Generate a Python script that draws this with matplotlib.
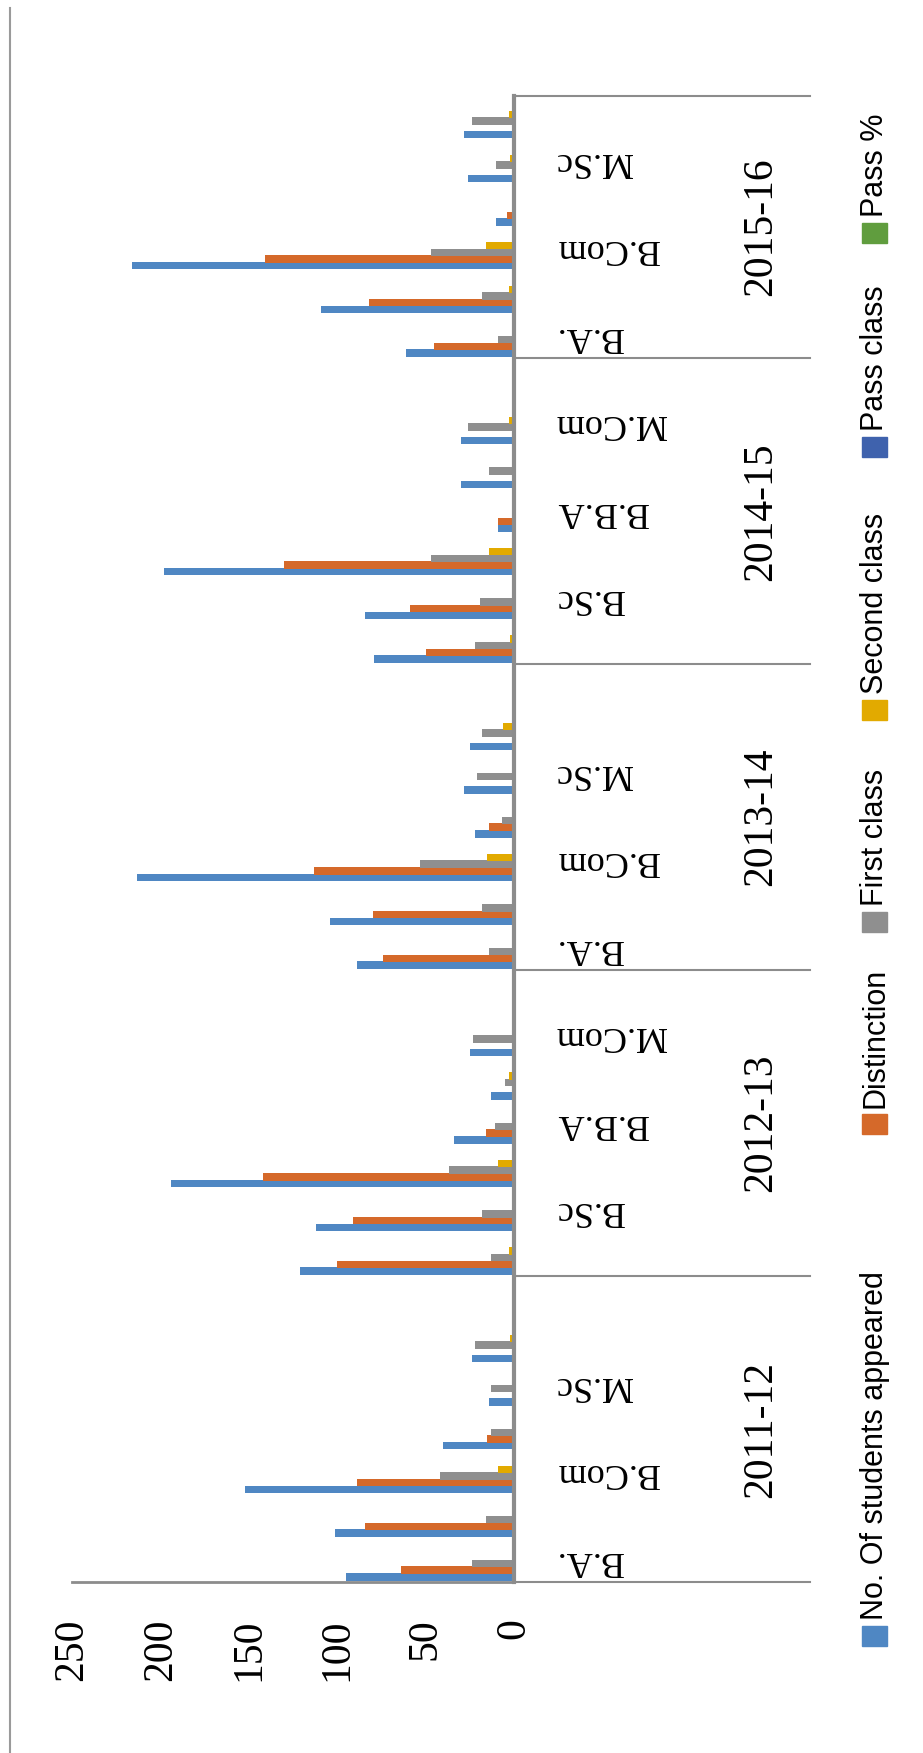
import numpy as np
import matplotlib.pyplot as plt
from matplotlib.patches import Rectangle
from matplotlib.lines import Line2D

# chart data (bottom to top in the picture); None = empty spacer row after each year
years = ["2011-12", "2012-13", "2013-14", "2014-15", "2015-16"]
categories = ["B.A.", "B.Sc", "B.Com", "B.B.A", "M.Sc", "M.Com", "",
              "B.A.", "B.Sc", "B.Com", "B.B.A", "M.Sc", "M.Com", "",
              "B.A.", "B.Sc", "B.Com", "B.B.A", "M.Sc", "M.Com", "",
              "B.A.", "B.Sc", "B.Com", "B.B.A", "M.Sc", "M.Com", "",
              "B.A.", "B.Sc", "B.Com", "B.B.A", "M.Sc", "M.Com"]
year_sizes = [7, 7, 7, 7, 6]

appeared = [95, 101, 152, 40, 14, 24, None,
            121, 112, 194, 34, 13, 25, None,
            89, 104, 213, 22, 28, 25, None,
            79, 84, 198, 9, 30, 30, None,
            61, 109, 216, 10, 26, 28]
distinction = [64, 84, 89, 15, 1, 1, None,
               100, 91, 142, 16, 1, 1, None,
               74, 80, 113, 14, 1, 1, None,
               50, 59, 130, 9, 1, 1, None,
               45, 82, 141, 4, 1, 1]
first_class = [24, 16, 42, 13, 13, 22, None,
               13, 18, 37, 11, 5, 23, None,
               14, 18, 53, 7, 21, 18, None,
               22, 19, 47, 0, 14, 26, None,
               9, 18, 47, 1, 10, 24]
second_class = [1, 1, 9, 1, 1, 2, None,
                3, 1, 9, 1, 3, 1, None,
                0, 1, 15, 1, 1, 6, None,
                2, 1, 14, 0, 1, 3, None,
                1, 3, 16, 1, 2, 3]
pass_class = [0.5, 0.5, 1, 0.5, 0.5, 0.5, None,
              0.5, 0.5, 1, 0.5, 0.5, 0.5, None,
              0.5, 0.5, 1, 0.5, 0.5, 0.5, None,
              0.5, 0.5, 1, 0.5, 0.5, 0.5, None,
              0.5, 0.5, 1, 0.5, 0.5, 0.5]
pass_pct = [0.9, 0.95, 0.9, 0.85, 0.95, 0.9, None,
            0.95, 0.9, 0.95, 0.9, 0.9, 0.95, None,
            0.9, 0.95, 0.9, 0.9, 0.95, 0.9, None,
            0.95, 0.9, 0.95, 0.9, 0.9, 0.95, None,
            0.9, 0.95, 0.9, 0.9, 0.95, 0.9]

series = [appeared, distinction, first_class, second_class, pass_class, pass_pct]
names = ["No. Of students appeared", "Distinction", "First class",
         "Second class", "Pass class", "Pass %"]
colors = ["#4F87C3", "#D5692A", "#8F8F8F", "#E2AA00", "#3F62AD", "#609D3E"]
ticks = [0, 50, 100, 150, 200, 250]

W, H = 923, 1753
fig = plt.figure(figsize=(W / 100, H / 100), dpi=100)

# the original Excel column chart is turned 90 degrees counter-clockwise
ax = fig.add_axes([72 / W, (H - 1582) / H, (514 - 72) / W, (1582 - 96) / H])
n = len(categories)
idx = np.arange(n)
step = 0.153
for j, vals in enumerate(series):
    v = np.array([np.nan if a is None else a for a in vals], dtype=float)
    ax.barh(idx + (j - 2.5) * step, v, height=0.17, color=colors[j], linewidth=0)

ax.set_xlim(250, 0)
ax.set_ylim(-0.5, n - 0.5)
ax.spines["left"].set_visible(False)
ax.spines["top"].set_visible(False)
ax.spines["right"].set_color("#8c8c8c")
ax.spines["right"].set_linewidth(3)
ax.spines["bottom"].set_color("#8c8c8c")
ax.spines["bottom"].set_linewidth(2)
ax.set_yticks([])
ax.set_xticks(ticks)
ax.set_xticklabels([str(t) for t in ticks], rotation=90,
                   family="Liberation Serif", fontsize=30)
ax.tick_params(axis="x", length=0, pad=26)

# category labels (every other one, upside down like the source)
tr = ax.get_yaxis_transform()
for i, c in enumerate(categories):
    if i % 2 == 0 and c:
        ax.text(1.093, i, c, transform=tr, rotation=180, ha="left", va="center",
                family="Liberation Serif", fontsize=26)

# year labels and dividers
start = 0
bounds = [-0.5]
for y, s in zip(years, year_sizes):
    mid = start + (s - 1) / 2
    ax.text(1.559, mid, y, transform=tr, rotation=90, ha="center", va="center",
            family="Liberation Serif", fontsize=30)
    start += s
    bounds.append(start - 0.5)
for b in bounds:
    ax.add_line(Line2D([1.0, 1.67], [b, b], transform=tr, color="#8c8c8c",
                       lw=1.5, clip_on=False))

# chart area border (left edge only)
fig.add_artist(Line2D([10 / W, 10 / W], [0, 1 - 8 / H], color="#9a9a9a", lw=1.5))

# legend, rotated
marker_y = [1636, 1124, 922, 710, 447, 233]
for name, col, my in zip(names, colors, marker_y):
    fig.add_artist(Rectangle((862 / W, 1 - (my + 10) / H), 25 / W, 20 / H,
                             transform=fig.transFigure, color=col))
    fig.text(875 / W, 1 - (my - 16) / H, name, rotation=90, ha="center",
             va="bottom", family="Liberation Sans", fontsize=22)

fig.savefig("out.png", dpi=100)
